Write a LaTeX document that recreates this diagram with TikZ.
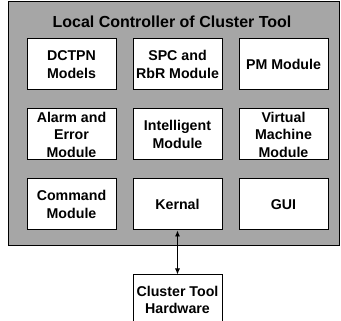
\documentclass[tikz,border=0pt]{standalone}
\usepackage{fontspec}
\setmainfont{Liberation Sans}
\usetikzlibrary{arrows.meta, positioning}

\begin{document}
\begin{tikzpicture}[x=1pt, y=-1pt,
            panel/.style ={rectangle, draw=black, line width=1pt, fill=black!35,
                           minimum width=331pt, minimum height=244pt, inner sep=0pt},
            module/.style={rectangle, draw=black, line width=1pt, fill=white, align=center,
                           minimum width=89pt, minimum height=51pt, inner sep=0pt,
                           font=\bfseries\fontsize{14.2}{17.5}\selectfont},
            ttl/.style   ={font=\bfseries\fontsize{16}{19}\selectfont},
            link/.style  ={{Latex[length=6pt,width=5pt]}-{Latex[length=6pt,width=5pt]}, line width=0.9pt}
        ]
            \useasboundingbox (0,0) rectangle (341,321);
            \clip (0,0) rectangle (341,321);

            \node[panel] (ctrl)  at (173.5,124) {};
            \node[ttl]   (title) at (172,22)    {Local Controller of Cluster Tool};

            \node[module] (dctpn) at (71.5,64.5)         {DCTPN\\Models};
            \node[module, right=16pt of dctpn] (spc)     {SPC and\\RbR Module};
            \node[module, right=16pt of spc]   (pm)      {PM Module};
            \node[module, below=18pt of dctpn] (alarm)   {Alarm and\\Error\\Module};
            \node[module, below=18pt of spc]   (intel)   {Intelligent\\Module};
            \node[module, below=18pt of pm]    (vm)      {Virtual\\Machine\\Module};
            \node[module, below=18pt of alarm] (cmd)     {Command\\Module};
            \node[module, below=18pt of intel] (kern)    {Kernal};
            \node[module, below=18pt of vm]    (gui)     {GUI};

            \node[module, minimum height=50pt, below=44pt of kern] (hw) {Cluster Tool\\Hardware};

            \draw[link] (kern) -- (hw);
        \end{tikzpicture}
\end{document}
